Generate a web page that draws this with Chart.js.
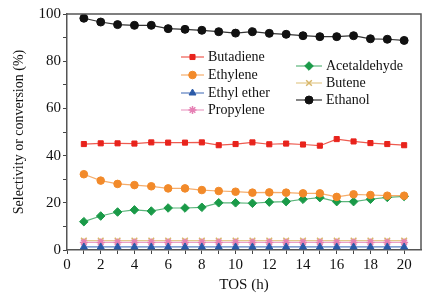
<!DOCTYPE html>
<html>
<head>
<meta charset="utf-8">
<script src="https://cdn.jsdelivr.net/npm/chart.js@4"></script>
<style>
  html, body { margin: 0; padding: 0; background: #fff; }
  #wrap { width: 434px; height: 298px; }
</style>
</head>
<body>
<div id="wrap"><canvas id="chart" width="434" height="298"></canvas></div>
<script>
// TOS (h)
const tos = [1,2,3,4,5,6,7,8,9,10,11,12,13,14,15,16,17,18,19,20];

const butadiene = [44.9,45.2,45.2,45.1,45.6,45.5,45.5,45.6,44.4,44.9,45.6,44.8,45.1,44.7,44.2,47.0,46.0,45.3,44.9,44.4];
const ethylene = [32.1,29.4,28.0,27.5,27.0,26.1,26.1,25.4,25.0,24.7,24.3,24.4,24.3,24.0,24.0,22.5,23.6,23.3,23.0,23.0];
const ethylEther = [1.3,1.3,1.3,1.3,1.3,1.3,1.3,1.3,1.3,1.3,1.3,1.3,1.3,1.3,1.3,1.3,1.3,1.3,1.3,1.3];
const propylene = [3.2,3.2,3.2,3.2,3.2,3.2,3.2,3.2,3.2,3.2,3.2,3.2,3.2,3.2,3.2,3.2,3.2,3.2,3.2,3.2];
const acetaldehyde = [12.0,14.4,16.1,17.0,16.5,17.8,17.8,18.1,20.0,20.0,19.8,20.3,20.5,21.5,22.2,20.5,20.5,21.5,22.3,22.7];
const butene = [4.0,4.0,4.0,4.0,4.0,4.0,4.0,4.0,4.0,4.0,4.0,4.0,4.0,4.0,4.0,4.0,4.0,4.0,4.0,4.0];
const ethanol = [98.2,96.6,95.5,95.2,95.2,93.8,93.5,93.1,92.5,91.9,92.5,91.8,91.4,90.8,90.4,90.4,90.8,89.5,89.3,88.8];

const xTicks = [0,2,4,6,8,10,12,14,16,18,20];
const yTicks = [0,20,40,60,80,100];

const FONT = '"Liberation Serif", "Times New Roman", serif';

function series(label, values, color, lineColor, style, radius) {
  return {
    label: label,
    data: tos.map((t, i) => ({ x: t, y: values[i] })),
    borderColor: lineColor,
    backgroundColor: color,
    pointBorderColor: color,
    pointBackgroundColor: color,
    pointStyle: style,
    pointRadius: radius,
    pointBorderWidth: style === 'crossRot' || style === 'star' ? 1.5 : 1,
    borderWidth: 1.2,
    tension: 0
  };
}

const datasets = [
  series('Butadiene', butadiene, '#e8231c', '#ee5a4f', 'rect', 3.6),
  series('Ethylene', ethylene, '#f28a2a', '#f5ad6c', 'circle', 3.8),
  series('Ethyl ether', ethylEther, '#2b5aa8', '#5a7fc0', 'triangle', 4),
  series('Propylene', propylene, '#e67fb4', '#eba0c6', 'star', 4),
  series('Acetaldehyde', acetaldehyde, '#1a9a48', '#5bb57b', 'rectRot', 4.3),
  series('Butene', butene, '#d8b76a', '#e3c98c', 'crossRot', 4),
  series('Ethanol', ethanol, '#111111', '#333333', 'circle', 4)
];

// two-column legend inside the plot
const legendPos = [
  { x: 181, y: 57, w: 23 }, { x: 181, y: 75, w: 23 }, { x: 181, y: 93, w: 23 }, { x: 181, y: 110, w: 23 },
  { x: 296, y: 66, w: 26 }, { x: 296, y: 83, w: 26 }, { x: 296, y: 100, w: 26 }
];

const framePlugin = {
  id: 'frame',
  afterDraw(chart) {
    const ctx = chart.ctx;
    const a = chart.chartArea;
    ctx.save();
    // top and right edges of the box
    ctx.strokeStyle = '#555';
    ctx.lineWidth = 1.5;
    ctx.beginPath();
    ctx.moveTo(a.left, a.top);
    ctx.lineTo(a.right, a.top);
    ctx.lineTo(a.right, a.bottom);
    ctx.stroke();

    chart.data.datasets.forEach((ds, i) => {
      const p = legendPos[i];
      ctx.strokeStyle = ds.borderColor;
      ctx.lineWidth = 1.2;
      ctx.beginPath();
      ctx.moveTo(p.x, p.y);
      ctx.lineTo(p.x + p.w, p.y);
      ctx.stroke();
      ctx.fillStyle = ds.pointBackgroundColor;
      ctx.strokeStyle = ds.pointBorderColor;
      ctx.lineWidth = ds.pointBorderWidth;
      Chart.helpers.drawPoint(ctx, {
        pointStyle: ds.pointStyle,
        radius: ds.pointRadius,
        borderWidth: ds.pointBorderWidth,
        rotation: 0
      }, p.x + p.w / 2, p.y);
      ctx.fillStyle = '#111';
      ctx.font = '14px ' + FONT;
      ctx.textBaseline = 'middle';
      ctx.textAlign = 'left';
      ctx.fillText(ds.label, p.x + p.w + 4, p.y);
    });
    ctx.restore();
  }
};

new Chart(document.getElementById('chart'), {
  type: 'line',
  data: { datasets: datasets },
  options: {
    responsive: false,
    animation: false,
    events: [],
    layout: { padding: { top: 14, right: 13, left: 0, bottom: 0 } },
    plugins: { legend: { display: false }, tooltip: { enabled: false } },
    scales: {
      x: {
        type: 'linear',
        min: 0,
        max: 21,
        afterFit(scale) { scale.height = 48; },
        afterBuildTicks(scale) {
          scale.ticks = [0].concat(tos).map(v => ({ value: v }));
        },
        ticks: {
          autoSkip: false,
          maxRotation: 0,
          color: '#111',
          padding: 2,
          font: { family: FONT, size: 15 },
          callback: v => (xTicks.includes(v) ? String(v) : '')
        },
        grid: { drawOnChartArea: false, color: '#444', tickLength: 4, tickWidth: 1 },
        border: { color: '#555', width: 1.5 },
        title: {
          display: true,
          text: 'TOS (h)',
          color: '#111',
          font: { family: FONT, size: 15 },
          padding: { top: 7 }
        }
      },
      y: {
        min: 0,
        max: 100,
        afterFit(scale) { scale.width = 67; },
        ticks: {
          stepSize: 10,
          autoSkip: false,
          color: '#111',
          padding: 2,
          font: { family: FONT, size: 15 },
          callback: v => (yTicks.includes(v) ? String(v) : '')
        },
        grid: { drawOnChartArea: false, color: '#444', tickLength: 4, tickWidth: 1 },
        border: { color: '#555', width: 1.5 },
        title: {
          display: true,
          text: 'Selectivity or conversion (%)',
          color: '#111',
          font: { family: FONT, size: 14 },
          padding: { top: 11, bottom: 4 }
        }
      }
    }
  },
  plugins: [framePlugin]
});
</script>
</body>
</html>
